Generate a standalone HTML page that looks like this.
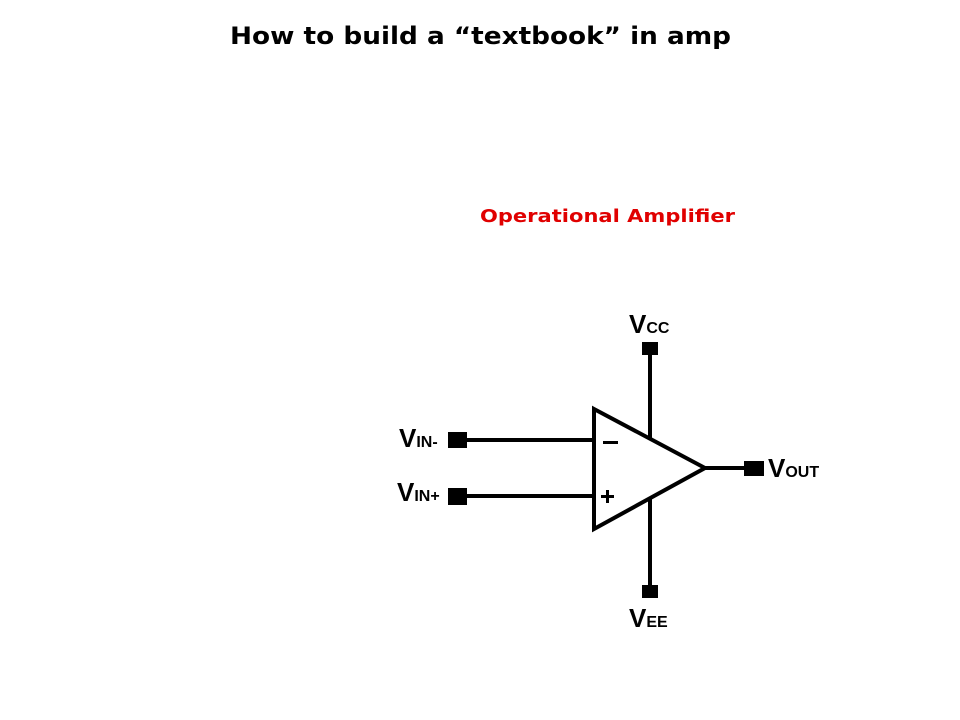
<!DOCTYPE html>
<html><head><meta charset="utf-8"><style>
html,body{margin:0;padding:0;background:#fff;}
svg{display:block;}
.lab{font-family:"Liberation Sans",Arial,sans-serif;font-weight:bold;}
</style></head><body>
<svg width="960" height="720" viewBox="0 0 960 720" xmlns="http://www.w3.org/2000/svg">
<text x="230" y="44" style="font-family:'DejaVu Sans',sans-serif;font-weight:bold" font-size="24" textLength="501" lengthAdjust="spacingAndGlyphs" fill="#000">How to build a “textbook” in amp</text>
<text x="480" y="222" style="font-family:'DejaVu Sans',sans-serif;font-weight:bold" font-size="18" textLength="255" lengthAdjust="spacingAndGlyphs" fill="#e00000">Operational Amplifier</text>
<g stroke="#000" stroke-width="4" fill="none">
<polygon points="594,409 705,468 594,529"/>
<line x1="466" y1="440" x2="594" y2="440"/>
<line x1="466" y1="496" x2="594" y2="496"/>
<line x1="650" y1="354" x2="650" y2="438"/>
<line x1="650" y1="499" x2="650" y2="586"/>
<line x1="705" y1="468" x2="746" y2="468"/>
</g>
<g fill="#000">
<rect x="448" y="432" width="19" height="16"/>
<rect x="448" y="488" width="19" height="17"/>
<rect x="642" y="342" width="16" height="13"/>
<rect x="642" y="585" width="16" height="13"/>
<rect x="744" y="461" width="20" height="15"/>
<rect x="603" y="441" width="15" height="3"/>
<rect x="601" y="495" width="13" height="3"/>
<rect x="606" y="490" width="3" height="13"/>
</g>
<g class="lab" fill="#000">
<text x="399" y="447" font-size="26">V<tspan font-size="16">IN-</tspan></text>
<text x="397" y="501" font-size="26">V<tspan font-size="16">IN+</tspan></text>
<text x="629" y="333" font-size="26">V<tspan font-size="16">CC</tspan></text>
<text x="629" y="627" font-size="26">V<tspan font-size="16">EE</tspan></text>
<text x="768" y="477" font-size="26">V<tspan font-size="16">OUT</tspan></text>
</g>
</svg>
</body></html>
